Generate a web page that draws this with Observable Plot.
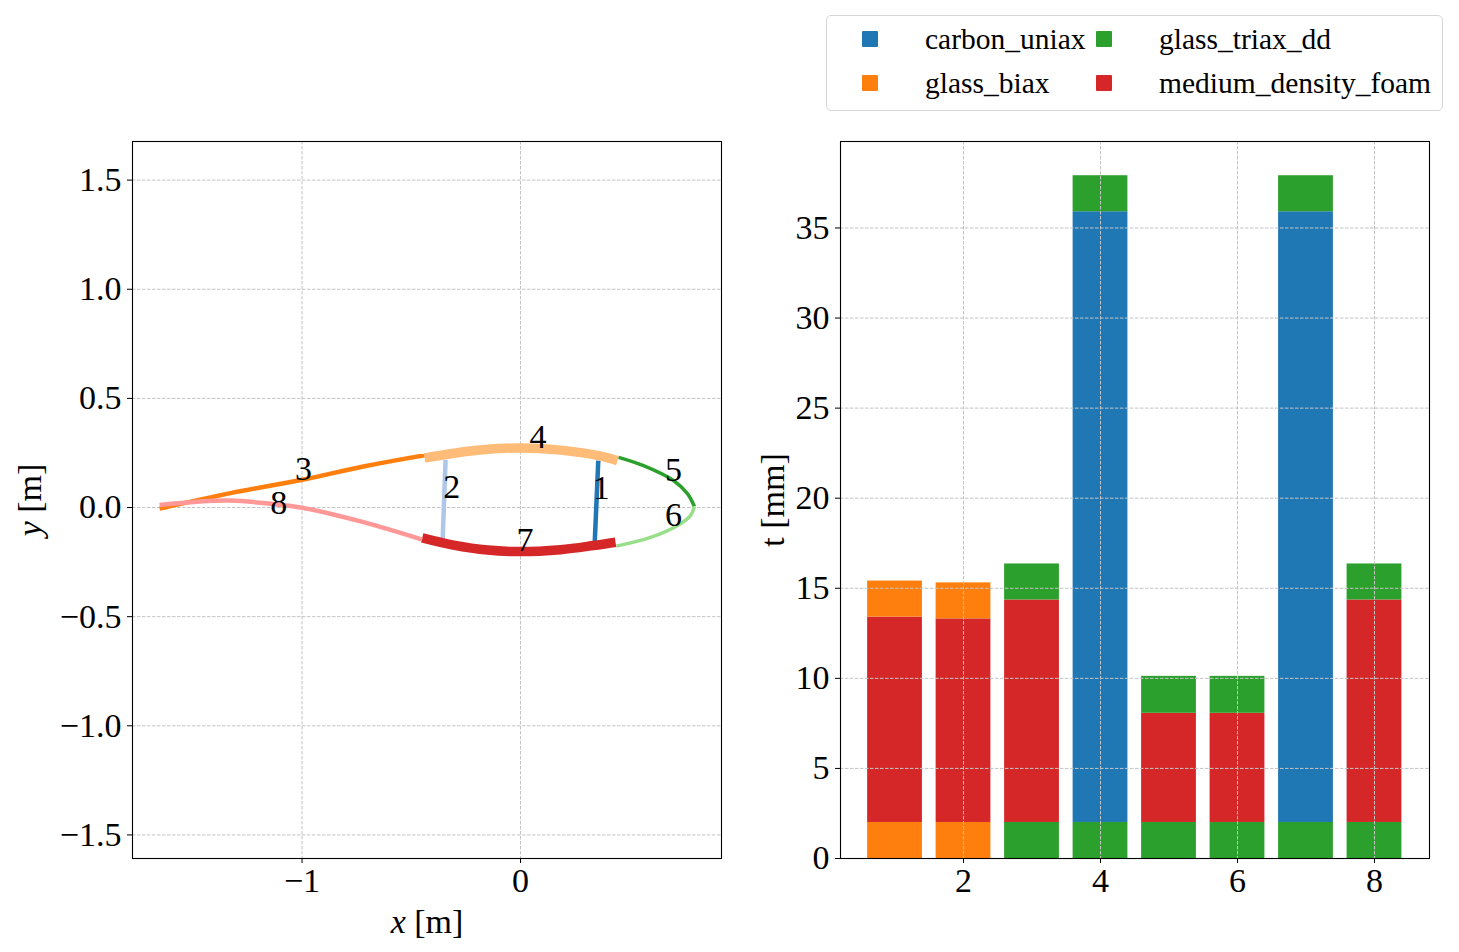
<!DOCTYPE html>
<html>
<head>
<meta charset="utf-8">
<script src="https://cdn.jsdelivr.net/npm/d3@7"></script>
<script src="https://cdn.jsdelivr.net/npm/@observablehq/plot@0.6"></script>
<style>
  html, body { margin: 0; padding: 0; background: #fff; }
  body { width: 1459px; height: 952px; overflow: hidden; font-family: "Liberation Serif", serif; color: #000; }
  #legendRow { height: 115px; position: relative; }
  #legend {
    position: absolute; left: 826px; top: 15px; width: 617px; height: 96px; box-sizing: border-box;
    border: 1.3px solid #d6d6d6; border-radius: 5px; background: #fff;
    display: grid; grid-template-columns: 234px 1fr; grid-template-rows: 44px 44px; padding-top: 1px; padding-left: 35px;
    font-size: 29.5px;
  }
  .item { display: flex; align-items: center; white-space: nowrap; }
  .swatch { width: 16px; height: 16px; border-radius: 1px; margin-right: 47px; flex: none; }
  #charts { display: flex; }
  #charts > * { flex: none; }
  #charts svg { overflow: visible; display: block; }
</style>
</head>
<body>
<div id="legendRow"><div id="legend"></div></div>
<div id="charts"></div>
<script>
// Section panels of the left chart
const panelIds = [1, 2, 3, 4, 5, 6, 7, 8];
const panelColors = ["#1f77b4", "#aec7e8", "#ff7f0e", "#ffbb78", "#2ca02c", "#98df8a", "#d62728", "#ff9896"];
const panelWidths = [4.5, 4.5, 4.5, 9.5, 3.5, 3.5, 9.5, 4.5];
const panel1x = [0.356, 0.340];
const panel1y = [0.215, -0.154];
const panel2x = [-0.343, -0.356];
const panel2y = [0.218, -0.139];
const panel3x = [-1.652, -1.327, -0.999, -0.719, -0.435];
const panel3y = [-0.005, 0.066, 0.127, 0.188, 0.240];
const panel4x = [-0.439, -0.197, 0, 0.183, 0.357, 0.444];
const panel4y = [0.227, 0.262, 0.273, 0.263, 0.238, 0.215];
const panel5x = [0.449, 0.563, 0.700, 0.764, 0.796];
const panel5y = [0.230, 0.192, 0.124, 0.064, 0.005];
const panel6x = [0.796, 0.778, 0.719, 0.595, 0.439];
const panel6y = [0.005, -0.037, -0.082, -0.137, -0.177];
const panel7x = [-0.450, -0.307, -0.151, 0, 0.183, 0.334, 0.435];
const panel7y = [-0.139, -0.172, -0.195, -0.202, -0.193, -0.174, -0.159];
const panel8x = [-0.450, -0.719, -0.999, -1.144, -1.327, -1.480, -1.652];
const panel8y = [-0.147, -0.067, -0.001, 0.017, 0.032, 0.027, 0.012];
const labelX = [0.37, -0.315, -0.993, 0.08, 0.70, 0.70, 0.02, -1.107];
const labelY = [0.088, 0.092, 0.178, 0.322, 0.172, -0.037, -0.150, 0.022];

// Layups of the right chart: material layers from the bottom up
const materials = ["carbon_uniax", "glass_biax", "glass_triax_dd", "medium_density_foam"];
const materialColors = ["#1f77b4", "#ff7f0e", "#2ca02c", "#d62728"];
const layer1Material = ["glass_biax", "glass_biax", "glass_triax_dd", "glass_triax_dd", "glass_triax_dd", "glass_triax_dd", "glass_triax_dd", "glass_triax_dd"];
const layer1Thick = [2, 2, 2, 2, 2, 2, 2, 2];
const layer2Material = ["medium_density_foam", "medium_density_foam", "medium_density_foam", "carbon_uniax", "medium_density_foam", "medium_density_foam", "carbon_uniax", "medium_density_foam"];
const layer2Thick = [11.4, 11.3, 12.35, 33.9, 6.06, 6.06, 33.9, 12.35];
const layer3Material = ["glass_biax", "glass_biax", "glass_triax_dd", "glass_triax_dd", "glass_triax_dd", "glass_triax_dd", "glass_triax_dd", "glass_triax_dd"];
const layer3Thick = [2, 2, 2, 2, 2.05, 2.05, 2, 2];

const xyTicksX = [-1, 0];
const xyTicksY = [-1.5, -1, -0.5, 0, 0.5, 1, 1.5];
const barTicksX = [2, 4, 6, 8];
const barTicksY = [0, 5, 10, 15, 20, 25, 30, 35];

const gridStyle = { stroke: "#c4c4c4", strokeWidth: 1, strokeOpacity: 1, strokeDasharray: "3.5 1.5" };
const tickFont = 34;

// --- left chart
const panels = [
  [panel1x, panel1y], [panel2x, panel2y], [panel3x, panel3y], [panel4x, panel4y],
  [panel5x, panel5y], [panel6x, panel6y], [panel7x, panel7y], [panel8x, panel8y]
];
const panelMarks = panels.map(([xs, ys], i) =>
  Plot.line(xs.map((x, j) => ({ x, y: ys[j] })), {
    x: "x", y: "y", curve: "catmull-rom",
    stroke: panelColors[i], strokeWidth: panelWidths[i], strokeLinecap: "butt", strokeLinejoin: "round"
  })
);
const labelRows = panelIds.map((id, i) => ({ id: String(id), x: labelX[i], y: labelY[i] }));

const left = Plot.plot({
  width: 729, height: 837,
  marginLeft: 132, marginRight: 8, marginTop: 26, marginBottom: 94,
  x: { domain: [-1.776, 0.92] },
  y: { domain: [-1.608, 1.677] },
  style: { fontFamily: "Liberation Serif, serif", background: "transparent", color: "#000" },
  marks: [
    Plot.gridX(xyTicksX, gridStyle),
    Plot.gridY(xyTicksY, gridStyle),
    ...panelMarks,
    Plot.text(labelRows, { x: "x", y: "y", text: "id", fontSize: tickFont, fill: "#000" }),
    Plot.axisX(xyTicksX, { tickSize: 5, tickPadding: 4, fontSize: tickFont, tickFormat: d3.format("d"), label: "x [m]", labelAnchor: "center", labelOffset: 74, labelArrow: "none", stroke: "#000", strokeOpacity: 1 }),
    Plot.axisY(xyTicksY, { tickSize: 5, tickPadding: 6, fontSize: tickFont, tickFormat: d3.format(".1f"), label: "y [m]", labelAnchor: "center", labelOffset: 116, labelArrow: "none", stroke: "#000", strokeOpacity: 1 }),
    Plot.frame({ stroke: "#000", strokeWidth: 1.1 })
  ]
});

// --- right chart
const barIds = panelIds;
const layers = [];
barIds.forEach((id, i) => {
  let base = 0;
  [[layer1Material, layer1Thick], [layer2Material, layer2Thick], [layer3Material, layer3Thick]].forEach(([m, t]) => {
    layers.push({ id, material: m[i], y1: base, y2: base + t[i], x1: id - 0.4, x2: id + 0.4 });
    base += t[i];
  });
});

const right = Plot.plot({
  width: 730, height: 837,
  marginLeft: 111, marginRight: 30, marginTop: 26, marginBottom: 94,
  x: { domain: [0.204, 8.803] },
  y: { domain: [0, 39.8] },
  color: { domain: materials, range: materialColors },
  style: { fontFamily: "Liberation Serif, serif", background: "transparent", color: "#000" },
  marks: [
    Plot.rect(layers, { x1: "x1", x2: "x2", y1: "y1", y2: "y2", fill: "material", inset: 0 }),
    Plot.gridX(barTicksX, gridStyle),
    Plot.gridY(barTicksY, gridStyle),
    Plot.axisX(barTicksX, { tickSize: 5, tickPadding: 4, fontSize: tickFont, label: null, stroke: "#000", strokeOpacity: 1 }),
    Plot.axisY(barTicksY, { tickSize: 5, tickPadding: 6, fontSize: tickFont, label: "t [mm]", labelAnchor: "center", labelOffset: 81, labelArrow: "none", stroke: "#000", strokeOpacity: 1 }),
    Plot.frame({ stroke: "#000", strokeWidth: 1.1 })
  ]
});

document.getElementById("charts").append(left, right);

// italic math variables in the axis titles
for (const t of left.querySelectorAll("text")) {
  const s = t.textContent.trim();
  if (s === "x [m]" || s === "y [m]") {
    const host = t.querySelector("tspan") || t;
    host.innerHTML = `<tspan font-style="italic">${s[0]}</tspan><tspan> [m]</tspan>`;
  }
}

// legend
const legend = document.getElementById("legend");
[0, 2, 1, 3].forEach(i => {
  const item = document.createElement("div");
  item.className = "item";
  const sw = document.createElement("span");
  sw.className = "swatch";
  sw.style.background = materialColors[i];
  const tx = document.createElement("span");
  tx.textContent = materials[i];
  item.append(sw, tx);
  legend.append(item);
});
</script>
</body>
</html>
